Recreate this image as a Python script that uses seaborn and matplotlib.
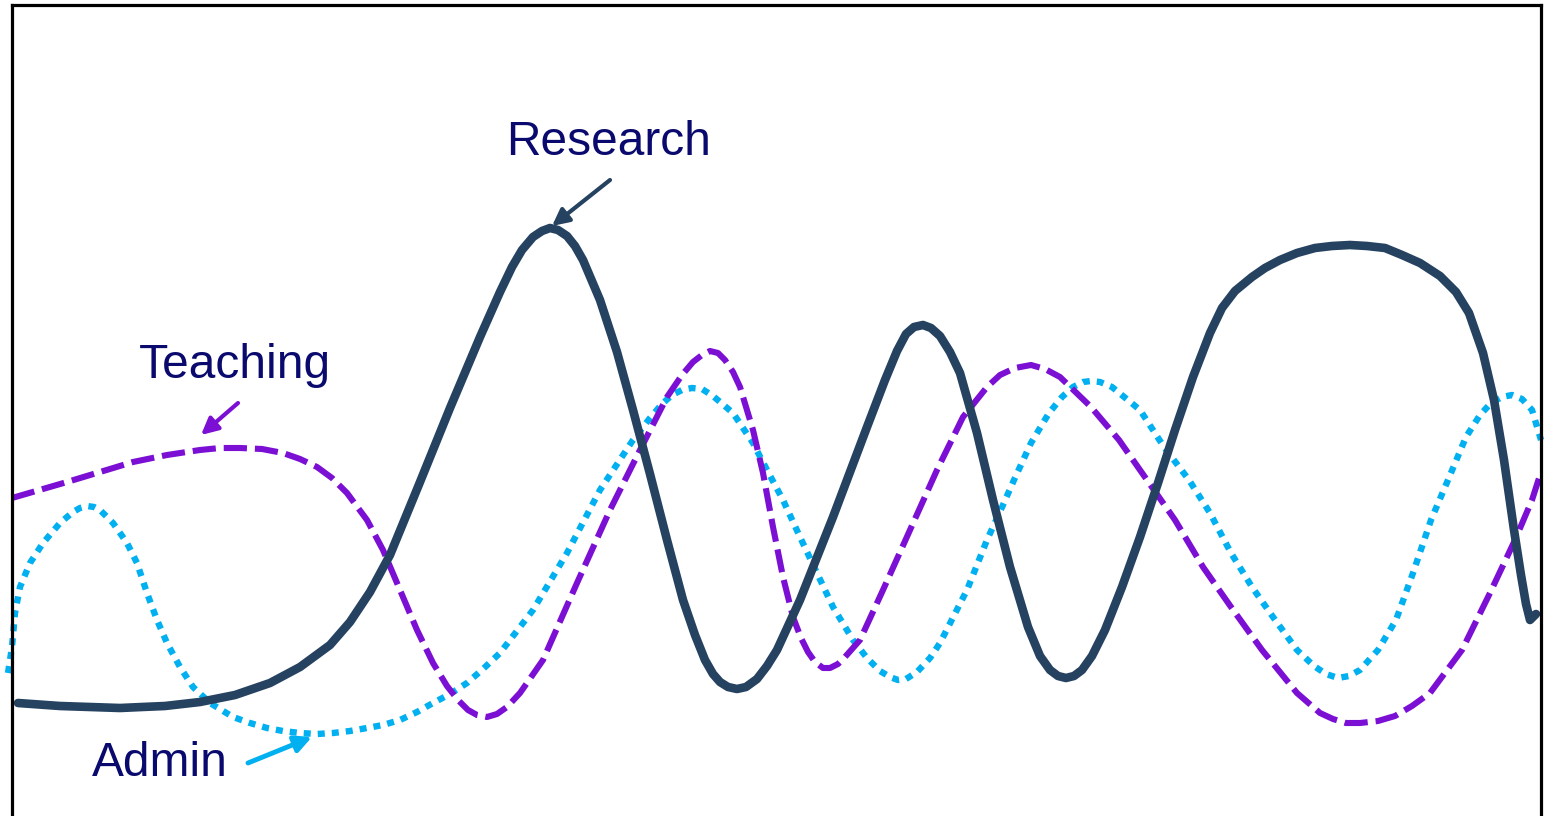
import matplotlib
matplotlib.use('Agg')
import matplotlib.pyplot as plt
import seaborn as sns
import pandas as pd

# curves (x = left->right, y = top->bottom, pixel space)
research_x = [18, 60, 90, 120, 142, 165, 200, 235, 270, 300, 330, 350, 370,
              390, 420, 450, 480, 500, 512, 522, 533, 542, 550, 558, 567, 575,
              583, 600, 617, 633, 650, 667, 683, 695, 705, 713, 720, 728, 737,
              746, 757, 767, 777, 800, 833, 867, 885, 897, 906, 914, 923, 931,
              940, 950, 960, 977, 993, 1010, 1028, 1040, 1050, 1058, 1066, 1074,
              1082, 1092, 1105, 1122, 1140, 1158, 1175, 1193, 1210, 1222, 1235,
              1252, 1265, 1280, 1297, 1315, 1332, 1350, 1367, 1385, 1402, 1420,
              1440, 1456, 1469, 1483, 1494, 1504, 1514, 1521, 1526, 1530, 1536]
research_y = [703, 706, 707, 708, 707, 706, 702, 695, 683, 667, 645, 622, 592,
              555, 482, 408, 337, 292, 267, 250, 237, 231, 228, 230, 236, 246,
              260, 300, 352, 410, 474, 540, 600, 635, 660, 674, 682, 687, 689,
              687, 679, 666, 650, 600, 517, 427, 380, 351, 334, 327, 325, 328,
              336, 352, 373, 433, 500, 567, 627, 656, 670, 676, 678, 676,
              670, 656, 630, 587, 537, 483, 430, 377, 333, 308, 291,
              277, 268, 260, 253, 248, 246, 245, 246, 248, 255, 263,
              276, 292, 313, 353, 400, 460, 530, 575, 604, 620, 614]

teaching_x = [12, 67, 100, 133, 167, 200, 220, 240, 262, 283, 300, 317, 332,
              347, 367, 383, 400, 417, 433, 447, 458, 468, 477, 487, 497, 507,
              520, 543, 577, 610, 640, 667, 682, 693, 702, 710, 718, 725, 733,
              740, 753, 763, 773, 783, 793, 801, 808, 815, 823, 830, 838, 845,
              860, 883, 910, 937, 963, 987, 1000, 1015, 1031, 1045, 1060, 1091,
              1119, 1147, 1175, 1203, 1231, 1262, 1297, 1320, 1333, 1346, 1360,
              1378, 1395, 1412, 1430, 1462, 1490, 1515, 1532, 1541]
teaching_y = [498, 482, 472, 462, 455, 450, 448, 448, 449, 453, 459, 467, 478,
              493, 520, 550, 590, 630, 663, 686, 700, 710, 715, 717, 714, 707,
              693, 660, 583, 510, 450, 397, 375, 362, 355, 351, 353, 360, 372,
              387, 430, 473, 527, 577, 617, 638, 652, 662, 668, 668, 664, 657,
              640, 590, 530, 470, 417, 387, 375, 368, 365, 369, 377, 407,
              440, 480, 520, 567, 607, 650, 693, 713, 719, 723, 723,
              721, 716, 706, 693, 650, 593, 540, 500, 472]

admin_x = [8, 12, 15, 20, 30, 43, 60, 73, 80, 87, 94, 100, 113, 127, 137, 147,
           157, 167, 180, 193, 210, 233, 250, 267, 283, 300, 317, 333, 350, 367,
           383, 400, 417, 433, 450, 467, 483, 500, 533, 567, 600, 633, 650, 662,
           672, 682, 692, 702, 713, 733, 753, 767, 783, 800, 817, 833, 853, 867,
           880, 890, 898, 906, 917, 930, 940, 967, 987, 1003, 1014, 1031, 1049,
           1062, 1073, 1083, 1091, 1100, 1112, 1140, 1164, 1189, 1210, 1231,
           1252, 1273, 1297, 1314, 1326, 1338, 1349, 1360, 1378, 1396, 1413,
           1431, 1448, 1466, 1480, 1491, 1502, 1512, 1522, 1532, 1541]
admin_y = [673, 647, 613, 587, 563, 543, 523, 512, 508, 506, 507, 510, 523,
           543, 563, 593, 620, 643, 667, 687, 703, 717, 723, 728, 731, 733,
           734, 733, 731, 728, 725, 720, 712, 703, 694, 683, 669, 653, 610,
           553, 490, 440, 418, 404, 395, 390, 388, 389, 396, 413, 443, 470,
           500, 537, 573, 607, 640, 658, 671, 677, 680, 679, 672, 658, 643,
           590, 540, 505, 480, 443, 413, 397, 387, 382, 381, 382, 387, 410,
           447, 480, 513, 553, 587, 617, 650, 666, 674, 678, 676, 670, 650,
           620, 573, 520, 480, 437, 415, 403, 397, 395, 399, 410, 440]

label_color = '#0a0a6e'
research_color = '#264261'
teaching_color = '#7b0fd4'
admin_color = '#00b0f0'

W, H = 1546, 816
sns.set_style('white')
plt.rcParams['font.family'] = ['Liberation Sans', 'DejaVu Sans']

fig = plt.figure(figsize=(W / 100, H / 100), dpi=100)
ax = fig.add_axes([12 / W, 0, (1541 - 12) / W, 811 / H])

research = pd.DataFrame({'x': research_x, 'y': research_y})
teaching = pd.DataFrame({'x': teaching_x, 'y': teaching_y})
admin = pd.DataFrame({'x': admin_x, 'y': admin_y})

sns.lineplot(data=admin, x='x', y='y', ax=ax, sort=False, estimator=None,
             color=admin_color, lw=4.6, linestyle=(0, (1.1, 1.1)),
             solid_joinstyle='round', clip_on=False)
sns.lineplot(data=teaching, x='x', y='y', ax=ax, sort=False, estimator=None,
             color=teaching_color, lw=4.4, linestyle=(0, (3.8, 1.3)),
             dash_joinstyle='round', clip_on=False)
sns.lineplot(data=research, x='x', y='y', ax=ax, sort=False, estimator=None,
             color=research_color, lw=6.2, solid_capstyle='round',
             solid_joinstyle='round', clip_on=False)

ax.set_xlim(12, 1541)
ax.set_ylim(816, 5)
ax.set_xlabel('')
ax.set_ylabel('')
ax.set_xticks([])
ax.set_yticks([])
for side in ['left', 'top', 'right']:
    ax.spines[side].set_color('black')
    ax.spines[side].set_linewidth(2.3)
ax.spines['bottom'].set_visible(False)

# labels with arrows
ax.text(609, 142, 'Research', fontsize=34.5, color=label_color, ha='center', va='center')
ax.annotate('', xy=(552, 226), xytext=(610, 180),
            arrowprops=dict(arrowstyle='-|>', color=research_color, lw=3,
                            mutation_scale=25, shrinkA=0, shrinkB=0))
ax.text(235, 365, 'Teaching', fontsize=34.5, color=label_color, ha='center', va='center')
ax.annotate('', xy=(201, 435), xytext=(238, 403),
            arrowprops=dict(arrowstyle='-|>', color=teaching_color, lw=3,
                            mutation_scale=25, shrinkA=0, shrinkB=0))
ax.text(160, 763, 'Admin', fontsize=34.5, color=label_color, ha='center', va='center')
ax.annotate('', xy=(312, 737), xytext=(248, 763),
            arrowprops=dict(arrowstyle='-|>', color=admin_color, lw=3.5,
                            mutation_scale=25, shrinkA=0, shrinkB=0))

fig.savefig('out.png', dpi=100)
